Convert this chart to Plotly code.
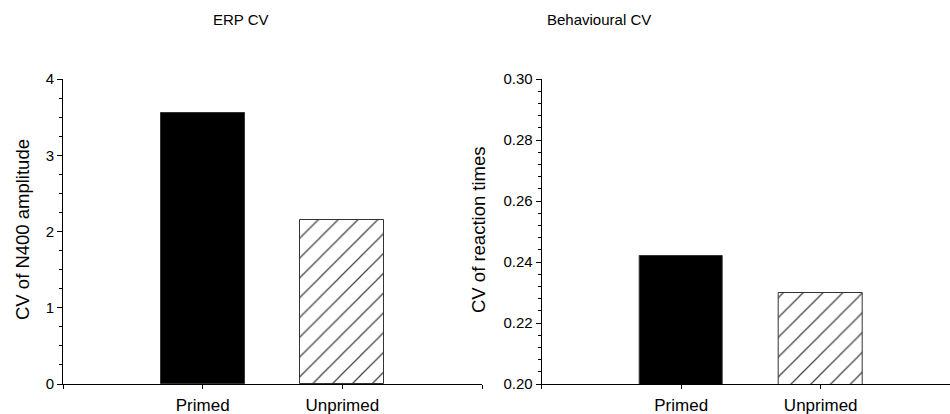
import plotly.graph_objects as go

# Conditions and coefficient-of-variation values
conditions = ["Primed", "Unprimed"]
erp_cv = [3.56, 2.15]          # CV of N400 amplitude
behav_cv = [0.242, 0.230]      # CV of reaction times

panel_titles = ["ERP CV", "Behavioural CV"]
y_titles = ["CV of N400 amplitude", "CV of reaction times"]

FONT = "Liberation Sans, Arial, sans-serif"
W, H = 950, 414

positions = [i + 1 for i in range(len(conditions))]

bar_colors = ["black", "white"]
bar_patterns = ["", "/"]


def bar_trace(values, xa, ya):
    return go.Bar(
        x=positions,
        y=values,
        width=0.6,
        xaxis=xa,
        yaxis=ya,
        marker=dict(
            color=bar_colors,
            line=dict(color="#333333", width=1),
            pattern=dict(shape=bar_patterns, fgcolor="black", bgcolor="white",
                         fgopacity=1, size=14, solidity=0.09),
        ),
        showlegend=False,
        hoverinfo="x+y",
    )


fig = go.Figure()
fig.add_trace(bar_trace(erp_cv, "x", "y"))
fig.add_trace(bar_trace(behav_cv, "x2", "y2"))

y_dom = [1 - 384 / H, 1 - 79 / H]

common_x = dict(
    showline=True, linecolor="black", linewidth=1,
    ticks="outside", ticklen=4, tickcolor="black", tickwidth=1,
    showgrid=False, zeroline=False, automargin=False,
    tickfont=dict(family=FONT, size=17, color="black"),
    ticklabelstandoff=2,
)
common_y = dict(
    showline=True, linecolor="black", linewidth=1,
    ticks="outside", ticklen=5, tickcolor="black", tickwidth=1,
    showgrid=False, zeroline=False, automargin=False,
    tickfont=dict(family=FONT, size=15, color="black"),
    domain=y_dom,
)

tick_pos = [0] + positions + [len(conditions) + 1]
tick_txt = [""] + conditions + [""]

fig.update_layout(
    width=W, height=H,
    margin=dict(l=0, r=0, t=0, b=0, pad=0),
    paper_bgcolor="white", plot_bgcolor="white",
    font=dict(family=FONT, color="black"),
    bargap=0,
    xaxis=dict(common_x, domain=[63 / W, 482 / W], range=[0, 3],
               tickmode="array", tickvals=tick_pos, ticktext=tick_txt,
               anchor="y"),
    yaxis=dict(common_y, range=[0, 4], dtick=1, tick0=0, anchor="x",
               minor=dict(dtick=0.25, ticks="outside", ticklen=3,
                          tickcolor="black", showgrid=False)),
    xaxis2=dict(common_x, domain=[541.7 / W, 1.0],
                range=[0, (W - 541.7) / 139.5],
                tickmode="array", tickvals=tick_pos, ticktext=tick_txt,
                anchor="y2"),
    yaxis2=dict(common_y, range=[0.20, 0.30], dtick=0.02, tick0=0.20,
                tickformat=".2f", anchor="x2",
                minor=dict(dtick=0.004, ticks="outside", ticklen=3,
                           tickcolor="black", showgrid=False)),
)

title_font = dict(family=FONT, size=15, color="black")
axis_title_font = dict(family=FONT, size=18.5, color="black")

# Panel headings
for text, xpix in zip(panel_titles, [241, 599]):
    fig.add_annotation(x=xpix / W, y=1 - 20 / H, xref="paper", yref="paper",
                       xanchor="center", yanchor="middle",
                       text=text, showarrow=False, font=title_font)

# Vertical axis titles
for text, xpix in zip(y_titles, [22, 478]):
    fig.add_annotation(x=xpix / W, y=1 - 230 / H, xref="paper", yref="paper",
                       xanchor="center", yanchor="middle",
                       text=text, textangle=-90, showarrow=False,
                       font=axis_title_font)

fig.write_html("out.html")
